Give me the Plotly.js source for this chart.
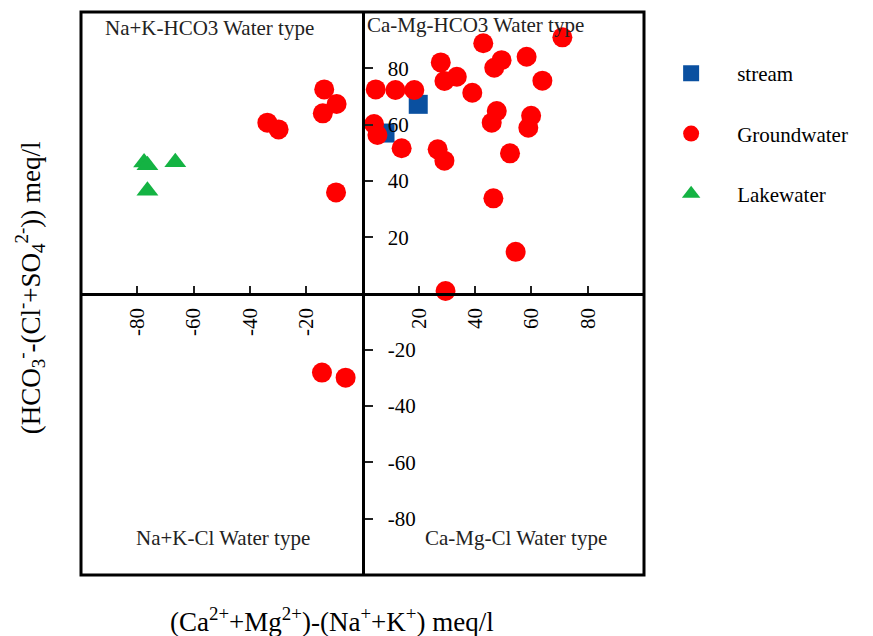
<!DOCTYPE html>
<html><head><meta charset="utf-8">
<script src="https://cdn.plot.ly/plotly-3.0.1.min.js"></script>
<style>body{margin:0;background:#fff}</style>
</head><body>
<div id="chart" style="width:873px;height:636px"></div>
<script>
const streamX = [19.8, 8.0];
const streamY = [67.2, 57.0];

const groundX = [-13.6, -9.2, -14.1, -33.8, -29.8, -9.4, -14.4, -6.0,
  71.0, 42.9, 27.8, 49.4, 46.8, 58.3, 29.1, 33.5, 63.9, 4.7, 11.7, 18.4, 39.0,
  47.7, 45.9, 59.9, 58.9, 4.1, 5.3, 13.9, 26.7, 29.1, 52.4, 46.5, 54.4, 29.5];
const groundY = [72.5, 67.3, 64.0, 60.7, 58.3, 35.9, -28.1, -29.9,
  91.0, 88.9, 82.1, 82.9, 80.2, 84.1, 75.5, 77.0, 75.6, 72.5, 72.3, 72.3, 71.3,
  64.8, 60.7, 63.1, 58.9, 60.2, 56.3, 51.6, 51.2, 47.2, 49.8, 33.8, 14.8, 0.9];

const lakeX = [-77.6, -76.4, -66.5, -76.4];
const lakeY = [46.5, 45.6, 46.6, 36.5];

const tickVals = [-80, -60, -40, -20, 20, 40, 60, 80];
const tickText = ['-80', '-60', '-40', '-20', '20', '40', '60', '80'];

const quadLabels = ['Na+K-HCO3 Water type', 'Ca-Mg-HCO3 Water type', 'Na+K-Cl Water type', 'Ca-Mg-Cl Water type'];
const quadX = [-54.2, 40.0, -49.6, 54.5];
const quadY = [94.3, 95.4, -86.9, -86.9];

const serif = 'Liberation Serif, Times New Roman, serif';

const traces = [
  {x: streamX, y: streamY, name: 'stream', type: 'scatter', mode: 'markers', legendgroup: 'a',
   marker: {symbol: 'square', size: 19, color: '#0a50a0'}},
  {x: groundX, y: groundY, name: 'Groundwater', type: 'scatter', mode: 'markers', legendgroup: 'b',
   marker: {symbol: 'circle', size: 20, color: '#ff0000'}},
  {x: lakeX, y: lakeY, name: 'Lakewater', type: 'scatter', mode: 'markers', legendgroup: 'c',
   marker: {symbol: 'triangle-up', size: 19, color: '#14b343'}}
];

const annotations = quadLabels.map((t, i) => ({
  x: quadX[i], y: quadY[i], xref: 'x', yref: 'y', text: t, showarrow: false,
  font: {family: serif, size: 21, color: '#222'}, xanchor: 'center', yanchor: 'middle'
}));
annotations.push({
  xref: 'paper', yref: 'paper', x: 0.446, y: -0.08, xanchor: 'center', yanchor: 'middle',
  text: '(Ca<sup>2+</sup>+Mg<sup>2+</sup>)-(Na<sup>+</sup>+K<sup>+</sup>) meq/l',
  showarrow: false, font: {family: serif, size: 27, color: '#000'}
});
annotations.push({
  xref: 'paper', yref: 'paper', x: -0.09, y: 0.51, xanchor: 'center', yanchor: 'middle',
  textangle: -90,
  text: '(HCO<sub>3</sub><sup>-</sup>-(Cl<sup>-</sup>+SO<sub>4</sub><sup>2-</sup>)) meq/l',
  showarrow: false, font: {family: serif, size: 27, color: '#000'}
});

const layout = {
  width: 873, height: 636,
  margin: {l: 81, r: 229, t: 12, b: 61},
  paper_bgcolor: '#fff', plot_bgcolor: '#fff',
  font: {family: serif, size: 20, color: '#000'},
  showlegend: true,
  legend: {x: 1.002, y: 0.927, xanchor: 'left', yanchor: 'top', traceorder: 'grouped',
    tracegroupgap: 30, itemwidth: 82, font: {family: serif, size: 21, color: '#000'}, bgcolor: 'rgba(0,0,0,0)'},
  xaxis: {range: [-100, 100], anchor: 'free', position: 0.5, side: 'bottom',
    showline: true, linewidth: 3, linecolor: '#000', showgrid: false, zeroline: false,
    ticks: 'inside', ticklen: 7, tickwidth: 1.5, tickcolor: '#222',
    tickvals: tickVals, ticktext: tickText, tickangle: -90, ticklabelstandoff: 4,
    tickfont: {family: serif, size: 21, color: '#000'}},
  yaxis: {range: [-100, 100], anchor: 'free', position: 0.5, side: 'right',
    showline: true, linewidth: 3, linecolor: '#000', showgrid: false, zeroline: false,
    ticks: 'outside', ticklen: 8, tickwidth: 1.5, tickcolor: '#222',
    tickvals: tickVals, ticktext: tickText, ticklabelstandoff: 11,
    tickfont: {family: serif, size: 21, color: '#000'}},
  shapes: [{type: 'rect', xref: 'paper', yref: 'paper', x0: 0, x1: 1, y0: 0, y1: 1,
    line: {color: '#000', width: 3}, layer: 'below'}],
  annotations: annotations
};

Plotly.newPlot('chart', traces, layout, {displayModeBar: false});
</script>
</body></html>
